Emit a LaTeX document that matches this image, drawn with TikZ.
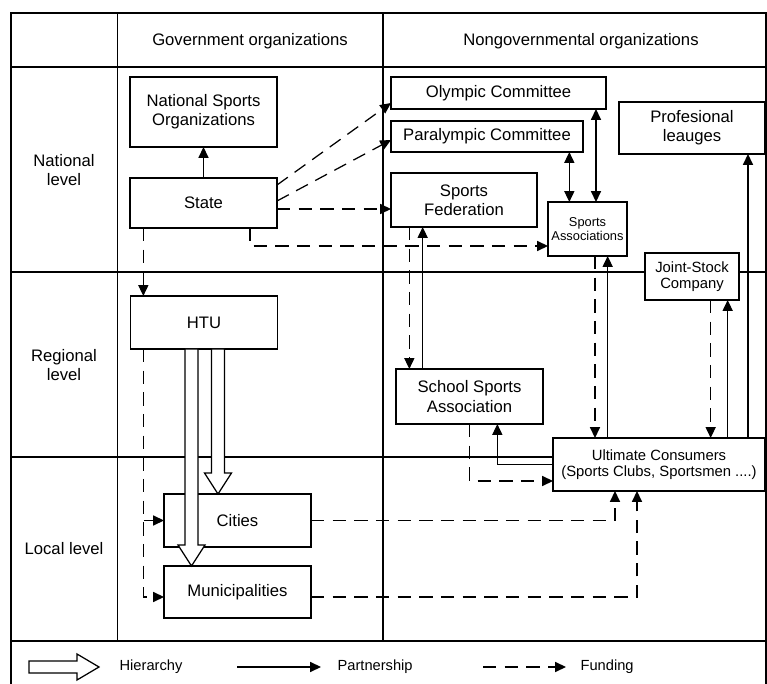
\documentclass[tikz,border=0pt]{standalone}
\usepackage{fontspec}
\setmainfont{Liberation Sans}
\usetikzlibrary{arrows.meta,calc}

\tikzstyle{box} = [draw, fill=white, rectangle, inner sep=0pt, outer sep=0pt, align=center, font=\fontsize{10}{11.5}\selectfont]
\tikzstyle{lbl} = [align=center, inner sep=0pt, font=\fontsize{10}{11.5}\selectfont]
\tikzstyle{legtext} = [anchor=west, inner sep=0pt, font=\fontsize{8.8}{10}\selectfont]
\tikzstyle{fund} = [dash pattern=on 8pt off 5pt]
\tikzstyle{hier} = [draw, fill=white, line join=miter]
\tikzstyle{grid} = [line width=0.85pt]

\newcommand{\hierarrow}[2]{%
  \draw[hier] ($(#1)+(-6.5,0)$) -- ($(#2)+(-6.5,-21)$) -- ($(#2)+(-13.5,-21)$) -- (#2)
    -- ($(#2)+(13.5,-21)$) -- ($(#2)+(6.5,-21)$) -- ($(#1)+(6.5,0)$) -- cycle;}

\begin{document}
\begin{tikzpicture}[x=0.6pt, y=-0.6pt, line width=0.75pt,
	>={Triangle[length=6.5pt,width=6pt]}]
\useasboundingbox (0,0) rectangle (767,684);

\draw[grid] (11,684) -- (11,13) -- (766,13) -- (766,684);
\foreach \y in {67,272,457,641}
	\draw[grid] (11,\y) -- (766,\y);
\foreach \x in {117.6,383}
	\draw[grid] (\x,13) -- (\x,641);

\node[lbl] (gov) at (250,41) {Government organizations};
\node[lbl] (ngo) at (581,41) {Nongovernmental organizations};
\node[lbl] (natl) at (64,170) {National\\level};
\node[lbl] (regl) at (64,365) {Regional\\level};
\node[lbl] (locl) at (64,549) {Local level};

\node[box, minimum width=88.2pt, minimum height=42pt] (nso) at (203.5,112) {National Sports\\Organizations};
\node[box, minimum width=88.2pt, minimum height=30pt] (state) at (203.5,203) {State};
\node[box, minimum width=88.2pt, minimum height=31.8pt] (htu) at (204,322.5) {HTU};
\node[box, minimum width=88.2pt, minimum height=31.8pt] (cities) at (237.5,520.5) {Cities};
\node[box, minimum width=88.2pt, minimum height=31.2pt] (muni) at (237.5,592) {Municipalities};
\node[box, minimum width=129pt, minimum height=19.2pt] (olympic) at (498.5,93) {Olympic Committee};
\node[box, minimum width=115.2pt, minimum height=18.6pt] (paralympic) at (487,136.5) {Paralympic Committee};
\node[box, minimum width=87.6pt, minimum height=32.4pt] (federation) at (464,200) {Sports\\Federation};
\node[box, minimum width=47.4pt, minimum height=32.4pt, font=\fontsize{7.7}{8.5}\selectfont] (assoc) at (587.5,229) {Sports\\Associations};
\node[box, minimum width=87.6pt, minimum height=31.2pt] (leagues) at (692,128) {Profesional\\leauges};
\node[box, minimum width=56.4pt, minimum height=28.2pt, font=\fontsize{8.9}{9.6}\selectfont] (jsc) at (692,276.5) {Joint-Stock\\Company};
\node[box, minimum width=88.2pt, minimum height=33pt] (school) at (469.5,396.5) {School Sports\\Association};
\node[box, minimum width=127.2pt, minimum height=31.8pt, font=\fontsize{8.9}{10}\selectfont] (consumers) at (659,464.5) {Ultimate Consumers\\(Sports Clubs, Sportsmen ....)};

\draw[->] (state) -- (nso);
\draw[fund,->] ([yshift=-4.2pt]state.north east) -- ([yshift=3.6pt]olympic.south west);
\draw[fund,->] ([yshift=1.2pt]state.east) -- ([yshift=-2.1pt]paralympic.west);
\draw[fund,->] ([yshift=-3.6pt]state.east) -- ([yshift=-3.6pt]state.east -| federation.west);
\draw[fund,->] ([xshift=-16.2pt]state.south east) |- ([yshift=-10.2pt]assoc.west);
\draw[fund,->] ([xshift=8pt]state.south west) -- ([xshift=8pt]state.south west |- htu.north);
\coordinate (htufund) at ([xshift=8pt]htu.south west);
\draw[fund,->] (htufund) |- ([yshift=-3pt]muni.west);
\draw[fund,->] (htufund |- cities.west) -- (cities.west);

\coordinate (hcA) at ([xshift=8.4pt]htu.south);
\coordinate (hcB) at (hcA |- cities.north);
\coordinate (hmA) at ([xshift=-7.5pt]htu.south);
\coordinate (hmB) at (hmA |- muni.north);
\hierarrow{hcA}{hcB}
\hierarrow{hmA}{hmB}

\draw[<->] ([xshift=-6pt]olympic.south east) -- ([xshift=-6pt]olympic.south east |- assoc.north);
\draw[<->] ([xshift=-8.2pt]paralympic.south east) -- ([xshift=-8.2pt]paralympic.south east |- assoc.north);
\draw[fund,->] ([xshift=11pt]federation.south west) -- ([xshift=11pt]federation.south west |- school.north);
\draw[->] ([xshift=19pt]federation.south west |- school.north) -- ([xshift=19pt]federation.south west);
\draw[fund,->] ([xshift=4.5pt]assoc.south) -- ([xshift=4.5pt]assoc.south |- consumers.north);
\draw[->] ([xshift=12.1pt]assoc.south |- consumers.north) -- ([xshift=12.1pt]assoc.south);
\draw[fund,->] ([xshift=11.2pt]jsc.south) -- ([xshift=11.2pt]jsc.south |- consumers.north);
\draw[->] ([xshift=21.4pt]jsc.south |- consumers.north) -- ([xshift=21.4pt]jsc.south);
\draw[->] ([xshift=33.6pt]leagues.south |- consumers.north) -- ([xshift=33.6pt]leagues.south);
\draw[->] (consumers.west) -| ([xshift=16.7pt]school.south);
\draw[fund,->] (school.south) |- ([yshift=-9.9pt]consumers.west);
\draw[fund,->] (cities.east) -| ([xshift=-26.4pt]consumers.south);
\draw[fund,->] ([yshift=-3pt]muni.east) -| ([xshift=-13.2pt]consumers.south);

\draw[hier] (29,661) -- (77,661) -- (77,654) -- (99,667) -- (77,680) -- (77,673) -- (29,673) -- cycle;
\node[legtext] (hierlbl) at (119,667) {Hierarchy};
\coordinate (partA) at (237,667);
\coordinate (partB) at (321,667);
\draw[->] (partA) -- (partB);
\node[legtext] (partlbl) at (337,667) {Partnership};
\coordinate (fundA) at (483,667);
\coordinate (fundB) at (566,667);
\draw[fund,->] (fundA) -- (fundB);
\node[legtext] (fundlbl) at (580,667) {Funding};
\end{tikzpicture}
\end{document}
